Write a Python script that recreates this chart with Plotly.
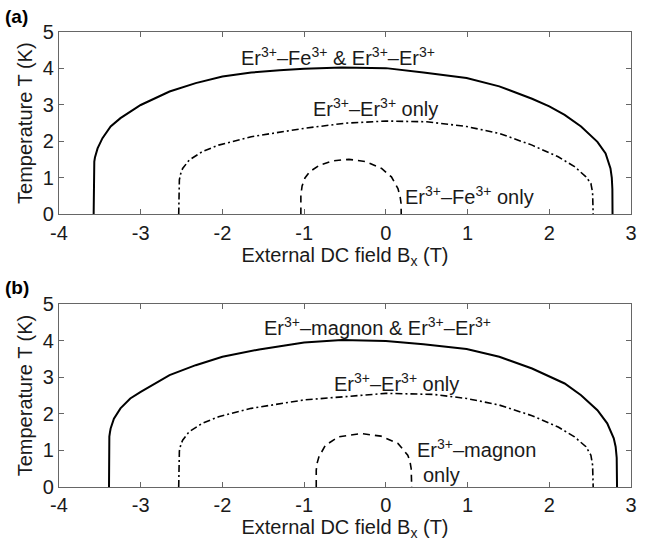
import plotly.graph_objects as go
from plotly.subplots import make_subplots

# Panel (a)
a_both_B = [-3.576, -3.576, -3.574, -3.568, -3.56, -3.545, -3.528, -3.468, -3.368, -3.248, -3.0, -2.647, -2.327, -2.0, -1.647, -1.3, -1.0, -0.54, 0.0, 0.46, 0.988, 1.388, 1.789, 2.0, 2.188, 2.389, 2.589, 2.689, 2.749, 2.765, 2.772, 2.774]
a_both_T = [0, 1.08, 1.3, 1.45, 1.56, 1.68, 1.81, 2.09, 2.41, 2.64, 3.0, 3.37, 3.6, 3.78, 3.89, 3.95, 3.99, 4.03, 4.01, 3.89, 3.74, 3.51, 3.17, 2.96, 2.73, 2.41, 1.99, 1.67, 1.26, 1.0, 0.7, 0]
a_erer_B = [-2.535, -2.535, -2.527, -2.51, -2.487, -2.407, -2.247, -2.047, -1.647, -1.0, -0.5, 0.0, 0.5, 0.988, 1.388, 1.789, 2.109, 2.309, 2.449, 2.509, 2.53, 2.537]
a_erer_T = [0, 0.8, 0.95, 1.12, 1.26, 1.49, 1.72, 1.9, 2.13, 2.36, 2.50, 2.56, 2.54, 2.41, 2.22, 1.90, 1.58, 1.31, 1.03, 0.85, 0.6, 0]
a_erfe_B = [-1.04, -1.04, -1.025, -0.99, -0.932, -0.812, -0.652, -0.452, -0.252, -0.052, 0.068, 0.148, 0.175, 0.186, 0.188]
a_erfe_T = [0, 0.53, 0.78, 1.0, 1.17, 1.35, 1.47, 1.51, 1.45, 1.26, 1.03, 0.71, 0.48, 0.3, 0]

# Panel (b)
b_both_B = [-3.388, -3.388, -3.384, -3.376, -3.368, -3.328, -3.248, -3.128, -3.0, -2.647, -2.327, -2.0, -1.55, -1.0, -0.54, 0.0, 0.46, 0.988, 1.388, 1.789, 2.188, 2.389, 2.589, 2.709, 2.789, 2.812, 2.825, 2.829]
b_both_T = [0, 1.23, 1.38, 1.5, 1.6, 1.87, 2.15, 2.42, 2.6, 3.06, 3.33, 3.56, 3.76, 3.95, 4.02, 3.99, 3.9, 3.77, 3.56, 3.24, 2.83, 2.51, 2.10, 1.74, 1.33, 1.1, 0.8, 0]
b_erer_B = [-2.535, -2.535, -2.527, -2.51, -2.487, -2.407, -2.247, -2.047, -1.647, -1.0, -0.54, 0.0, 0.588, 0.988, 1.388, 1.789, 2.109, 2.309, 2.449, 2.509, 2.53, 2.537]
b_erer_T = [0, 0.87, 0.98, 1.15, 1.28, 1.51, 1.74, 1.92, 2.15, 2.38, 2.47, 2.56, 2.53, 2.42, 2.24, 1.95, 1.64, 1.37, 1.10, 0.87, 0.6, 0]
b_ermag_B = [-0.852, -0.852, -0.84, -0.82, -0.74, -0.58, -0.30, -0.06, 0.148, 0.268, 0.295, 0.31, 0.316]
b_ermag_T = [0, 0.46, 0.66, 0.82, 1.14, 1.37, 1.46, 1.39, 1.19, 0.87, 0.7, 0.5, 0]

x_ticks = [-4, -3, -2, -1, 0, 1, 2, 3]
x_ticktext = ["-4", "-3", "-2", "-1", "0", "1", "2", "3"]
y_ticks = [0, 1, 2, 3, 4, 5]

FONT = "Liberation Sans, Arial, sans-serif"
TXT = "#1a1a1a"

fig = make_subplots(rows=2, cols=1, vertical_spacing=0.1)

def add(B, T, row, dash, width):
    fig.add_trace(go.Scatter(x=B, y=T, mode="lines",
                             line=dict(color="black", width=width, dash=dash),
                             showlegend=False, hoverinfo="skip"), row=row, col=1)

DASHDOT = "7px,3px,2px,3px"
DASH = "7px,5px"
add(a_both_B, a_both_T, 1, "solid", 2)
add(a_erer_B, a_erer_T, 1, DASHDOT, 1.6)
add(a_erfe_B, a_erfe_T, 1, DASH, 1.6)
add(b_both_B, b_both_T, 2, "solid", 2)
add(b_erer_B, b_erer_T, 2, DASHDOT, 1.6)
add(b_ermag_B, b_ermag_T, 2, DASH, 1.6)

axis_common = dict(showline=True, linecolor="#666", linewidth=1.2, mirror="ticks", ticks="inside",
                   ticklen=5, tickcolor="#666", showgrid=False, zeroline=False,
                   tickfont=dict(size=20, color=TXT, family=FONT))

for r in (1, 2):
    fig.update_xaxes(range=[-4, 3], tickvals=x_ticks, ticktext=x_ticktext,
                     title=dict(text="External DC field B<sub>x</sub> (T)", font=dict(size=20, color=TXT, family=FONT), standoff=2),
                     row=r, col=1, **axis_common)
    fig.update_yaxes(range=[0, 5], tickvals=y_ticks,
                     title=dict(text="Temperature T (K)", font=dict(size=20, color=TXT, family=FONT), standoff=4),
                     row=r, col=1, **axis_common)

fig.update_layout(yaxis=dict(domain=[0.599, 1.0]), yaxis2=dict(domain=[0.0, 0.402]))

ann_font = dict(size=20, color=TXT, family=FONT)
anns = [
    dict(x=-0.59, y=4.32, xref="x", yref="y", text="Er<sup>3+</sup>–Fe<sup>3+</sup> &amp; Er<sup>3+</sup>–Er<sup>3+</sup>"),
    dict(x=-0.13, y=2.92, xref="x", yref="y", text="Er<sup>3+</sup>–Er<sup>3+</sup> only"),
    dict(x=1.02, y=0.53, xref="x", yref="y", text="Er<sup>3+</sup>–Fe<sup>3+</sup> only"),
    dict(x=-0.1, y=4.38, xref="x2", yref="y2", text="Er<sup>3+</sup>–magnon &amp; Er<sup>3+</sup>–Er<sup>3+</sup>"),
    dict(x=0.13, y=2.85, xref="x2", yref="y2", text="Er<sup>3+</sup>–Er<sup>3+</sup> only"),
    dict(x=0.36, y=1.05, xref="x2", yref="y2", text="Er<sup>3+</sup>–magnon", xanchor="left"),
    dict(x=0.43, y=0.33, xref="x2", yref="y2", text="only", xanchor="left"),
]
for a in anns:
    a.setdefault("xanchor", "center")
    fig.add_annotation(showarrow=False, font=ann_font, yanchor="middle", **a)

for txt, ypx in (("<b>(a)</b>", 17), ("<b>(b)</b>", 288)):
    fig.add_annotation(x=-57 / 578, xanchor="left", y=1 + (32.3 - ypx) / 455, yanchor="middle",
                       xref="paper", yref="paper", text=txt, showarrow=False,
                       font=dict(size=19, color="black", family=FONT))

fig.update_layout(width=646, height=545, margin=dict(l=59, r=9, t=32, b=58),
                  plot_bgcolor="white", paper_bgcolor="white")

fig.write_html("out.html")
